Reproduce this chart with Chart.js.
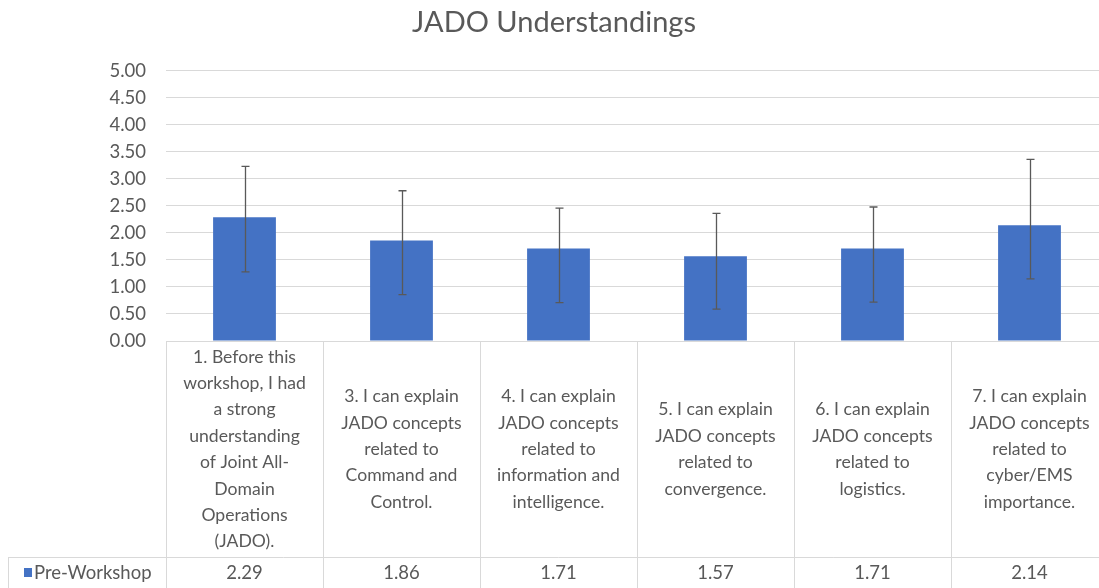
<!DOCTYPE html>
<html>
<head>
<meta charset="utf-8">
<title>JADO Understandings</title>
<script src="https://cdn.jsdelivr.net/npm/chart.js@4.4.0/dist/chart.umd.min.js"></script>
<style>
  html, body { margin: 0; padding: 0; background: #fff; overflow: hidden; }
  #wrap { width: 1108px; height: 588px; }
</style>
</head>
<body>
<div id="wrap"><canvas id="myChart"></canvas></div>
<script>
// categories (already wrapped the way the table shows them)
const labels = [
    ['1. Before this', 'workshop, I had', 'a strong', 'understanding', 'of Joint All-', 'Domain', 'Operations', '(JADO).'],
    ['3. I can explain', 'JADO concepts', 'related to', 'Command and', 'Control.'],
    ['4. I can explain', 'JADO concepts', 'related to', 'information and', 'intelligence.'],
    ['5. I can explain', 'JADO concepts', 'related to', 'convergence.'],
    ['6. I can explain', 'JADO concepts', 'related to', 'logistics.'],
    ['7. I can explain', 'JADO concepts', 'related to', 'cyber/EMS', 'importance.']
];

const seriesName = 'Pre-Workshop';
const preWorkshop = [2.29, 1.86, 1.71, 1.57, 1.71, 2.14];

// error bar ends
const errHigh = [3.23, 2.78, 2.46, 2.36, 2.48, 3.36];
const errLow = [1.28, 0.86, 0.71, 0.59, 0.72, 1.15];

const yTicks = [0, 0.5, 1, 1.5, 2, 2.5, 3, 3.5, 4, 4.5, 5];

const FONT = 'Lato, "Noto Sans", sans-serif';
const GREY = '#595959';
const LINE = '#d9d9d9';
const BLUE = '#4472C4';

// draws error bars plus the data table under the plot
const tablePlugin = {
    id: 'dataTable',
    afterDatasetsDraw(chart) {
        const ctx = chart.ctx;
        const x = chart.scales.x;
        const y = chart.scales.y;
        ctx.save();
        ctx.strokeStyle = GREY;
        ctx.lineWidth = 1.3;
        errHigh.forEach((hi, i) => {
            const px = Math.round(x.getPixelForValue(i)) + 0.5;
            const top = y.getPixelForValue(hi);
            const bot = y.getPixelForValue(errLow[i]);
            ctx.beginPath();
            ctx.moveTo(px, top); ctx.lineTo(px, bot);
            ctx.moveTo(px - 4, top); ctx.lineTo(px + 4, top);
            ctx.moveTo(px - 4, bot); ctx.lineTo(px + 4, bot);
            ctx.stroke();
        });
        ctx.restore();
    },
    afterDraw(chart) {
        const ctx = chart.ctx;
        const x = chart.scales.x;
        const area = chart.chartArea;
        const colW = (x.right - x.left) / labels.length;
        const rowTop = area.bottom + 216;
        const bottom = chart.height + 2;

        ctx.save();
        ctx.strokeStyle = LINE;
        ctx.lineWidth = 1;
        ctx.beginPath();
        for (let i = 0; i <= labels.length; i++) {
            const bx = Math.round(x.left + i * colW) + 0.5;
            ctx.moveTo(bx, area.bottom);
            ctx.lineTo(bx, bottom);
        }
        ctx.moveTo(8.5, rowTop + 0.5);
        ctx.lineTo(x.right, rowTop + 0.5);
        ctx.moveTo(8.5, rowTop);
        ctx.lineTo(8.5, bottom);
        ctx.stroke();

        // legend key + series name
        ctx.fillStyle = BLUE;
        ctx.fillRect(24, rowTop + 11, 8, 9);
        ctx.fillStyle = GREY;
        ctx.font = '18.5px ' + FONT;
        ctx.textBaseline = 'middle';
        ctx.textAlign = 'left';
        ctx.fillText(seriesName, 34, rowTop + 16);

        // values row
        ctx.textAlign = 'center';
        preWorkshop.forEach((v, i) => {
            ctx.fillText(v.toFixed(2), x.getPixelForValue(i), rowTop + 16);
        });
        ctx.restore();
    }
};

const data = {
    labels: labels,
    datasets: [
        {
            label: seriesName,
            backgroundColor: BLUE,
            borderWidth: 0,
            data: preWorkshop,
            barPercentage: 0.4,
            categoryPercentage: 1.0
        }
    ]
};

const config = {
    type: 'bar',
    data,
    plugins: [tablePlugin],
    options: {
        responsive: true,
        maintainAspectRatio: false,
        animation: false,
        layout: { padding: { left: 0, right: 0, top: 0, bottom: 0 } },
        plugins: {
            legend: { display: false },
            tooltip: { enabled: false },
            title: {
                display: true,
                text: 'JADO Understandings',
                color: GREY,
                font: { family: FONT, size: 29, weight: 'normal' },
                padding: { top: 5, bottom: 31 }
            }
        },
        scales: {
            x: {
                grid: { display: false },
                border: { display: false },
                ticks: {
                    color: GREY,
                    font: { family: FONT, size: 17.6, lineHeight: 1.5 },
                    padding: 8,
                    crossAlign: 'center',
                    maxRotation: 0,
                    autoSkip: false
                },
                afterFit(scale) { scale.height = 247; }
            },
            y: {
                min: 0,
                max: 5,
                grid: { color: LINE, drawTicks: false },
                border: { display: false },
                afterBuildTicks(scale) { scale.ticks = yTicks.map(v => ({ value: v })); },
                ticks: {
                    color: GREY,
                    font: { family: FONT, size: 18.5 },
                    padding: 20,
                    callback: v => Number(v).toFixed(2)
                },
                afterFit(scale) { scale.width = 166; }
            }
        }
    }
};

var myChart = new Chart(document.getElementById('myChart'), config);
</script>
</body>
</html>
